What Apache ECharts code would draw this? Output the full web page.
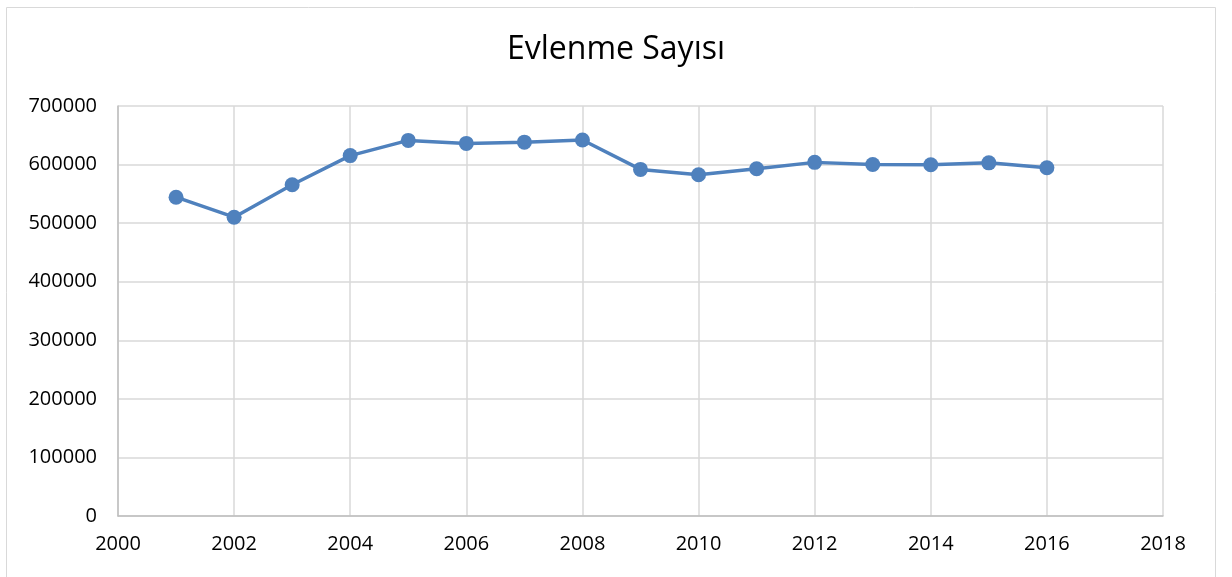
<!DOCTYPE html>
<html>
<head>
<meta charset="utf-8">
<script src="https://cdn.jsdelivr.net/npm/echarts@6/dist/echarts.min.js"></script>
<style>
  html, body { margin: 0; padding: 0; background: #fff; }
  #chart { width: 1232px; height: 577px; }
</style>
</head>
<body>
<div id="chart"></div>
<script>
var years = [2001, 2002, 2003, 2004, 2005, 2006, 2007, 2008, 2009, 2010, 2011, 2012, 2013, 2014, 2015, 2016];
var marriages = [544322, 510155, 565468, 615357, 641241, 636121, 638311, 641973, 591742, 582715, 592775, 603751, 600138, 599704, 602982, 594493];

var chart = echarts.init(document.getElementById('chart'));
var font = '"Open Sans", sans-serif';

var option = {
    animation: false,
    title: {
        text: 'Evlenme Sayısı',
        left: 'center',
        top: 29,
        textStyle: { fontFamily: font, fontSize: 32, fontWeight: 'normal', color: '#000' }
    },
    graphic: [{
        type: 'rect',
        shape: { x: 6.5, y: 7.5, width: 1209, height: 580 },
        style: { fill: 'none', stroke: '#d9d9d9', lineWidth: 1 },
        silent: true
    }],
    grid: { left: 118, right: 69, top: 106, bottom: 61 },
    xAxis: {
        type: 'value',
        min: 2000,
        max: 2018,
        interval: 2,
        axisLine: { show: true, lineStyle: { color: '#bfbfbf', width: 1.5 } },
        axisTick: { show: false },
        axisLabel: { margin: 18, fontFamily: font, fontSize: 20, color: '#000',
            formatter: function (v) { return String(v); } },
        splitLine: { show: true, lineStyle: { color: '#d9d9d9', width: 1.5 } }
    },
    yAxis: {
        type: 'value',
        min: 0,
        max: 700000,
        interval: 100000,
        axisLine: { show: true, lineStyle: { color: '#bfbfbf', width: 1.5 } },
        axisTick: { show: false },
        axisLabel: { margin: 21, fontFamily: font, fontSize: 20, color: '#000',
            formatter: function (v) { return String(v); } },
        splitLine: { show: true, lineStyle: { color: '#d9d9d9', width: 1.5 } }
    },
    series: [{
        name: 'Evlenme Sayısı',
        type: 'line',
        data: years.map(function (y, i) { return [y, marriages[i]]; }),
        symbol: 'circle',
        symbolSize: 15,
        itemStyle: { color: '#4f81bd' },
        lineStyle: { color: '#4f81bd', width: 3.5 }
    }]
};
chart.setOption(option);
</script>
</body>
</html>
